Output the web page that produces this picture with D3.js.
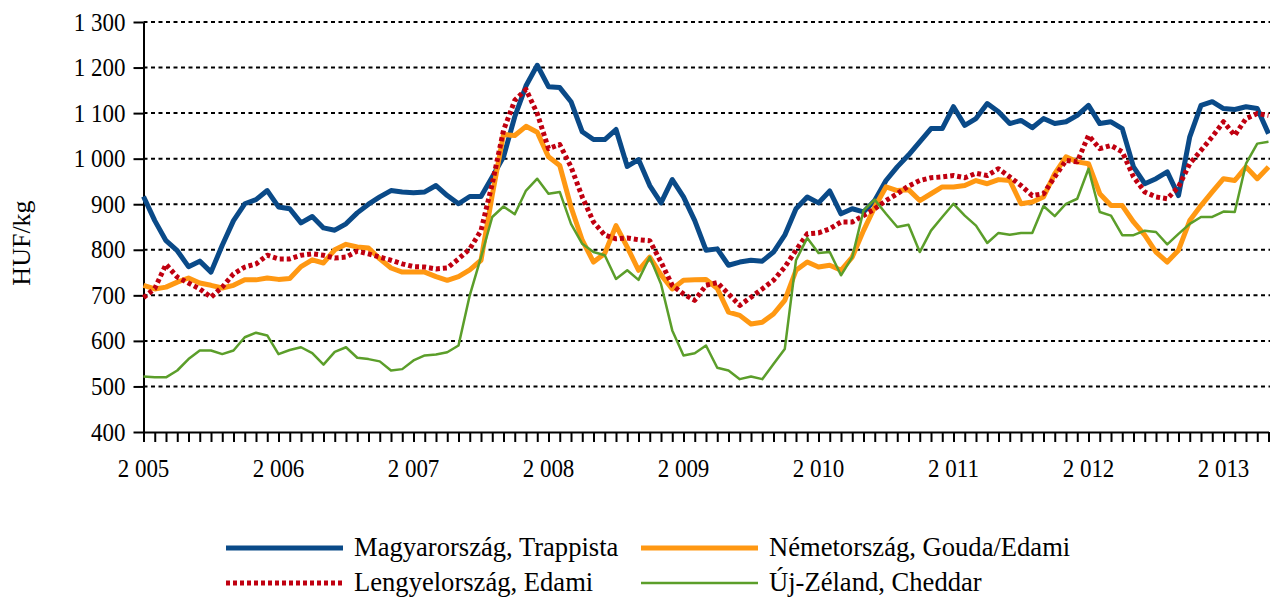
<!DOCTYPE html>
<html lang="hu">
<head>
<meta charset="UTF-8">
<title>Sajtárak</title>
<script src="https://d3js.org/d3.v7.min.js"></script>
<style>
  body { margin: 0; background: #fff; }
  svg text { font-family: "Liberation Serif", "Times New Roman", serif; fill: #000; }
</style>
</head>
<body>
<svg id="chart" width="1270" height="599"></svg>
<script>
// havi árak, HUF/kg, 2005 január - 2013 május
const years = [2005, 2006, 2007, 2008, 2009, 2010, 2011, 2012, 2013];
const yTicks = [400, 500, 600, 700, 800, 900, 1000, 1100, 1200, 1300];

const trappista = [917, 864, 820, 798, 763, 775, 751, 810, 864, 901, 910, 930, 894, 890, 859, 873, 848, 843, 857, 881,
  900, 916, 930, 927, 925, 927, 941, 919, 901, 917, 917, 960, 1004, 1092, 1160, 1205, 1158, 1156, 1125, 1059,
  1042, 1042, 1064, 983, 998, 941, 903, 954, 916, 864, 799, 802, 766, 773, 777, 775, 795, 832, 890, 916,
  903, 929, 879, 890, 883, 908, 952, 982, 1008, 1037, 1066, 1066, 1114, 1073, 1088, 1121, 1103, 1077, 1084, 1068,
  1088, 1077, 1081, 1095, 1117, 1077, 1081, 1066, 982, 945, 956, 971, 919, 1048, 1117, 1125, 1110, 1108, 1114, 1110, 1055];

const gouda = [722, 714, 718, 729, 738, 727, 722, 716, 722, 734, 734, 738, 735, 737, 763, 778, 771, 800, 812, 806,
  804, 780, 760, 751, 751, 751, 741, 733, 741, 756, 777, 920, 1053, 1051, 1071, 1058, 1004, 985, 894, 821,
  773, 792, 853, 806, 755, 784, 745, 714, 733, 734, 735, 715, 663, 656, 637, 641, 659, 689, 755, 773,
  762, 766, 755, 784, 842, 894, 938, 930, 932, 908, 923, 938, 938, 941, 952, 945, 954, 952, 901, 905,
  916, 967, 1004, 993, 989, 923, 897, 897, 861, 832, 795, 773, 799, 864, 897, 927, 956, 952, 982, 956, 982];

const edami = [695, 715, 768, 740, 727, 714, 696, 718, 747, 762, 769, 788, 780, 780, 788, 791, 788, 782, 784, 797,
  791, 784, 777, 769, 763, 762, 758, 760, 780, 802, 842, 945, 1062, 1128, 1152, 1099, 1022, 1031, 982, 916,
  861, 832, 824, 826, 822, 820, 773, 722, 703, 689, 722, 728, 703, 678, 696, 714, 733, 762, 799, 835,
  837, 846, 861, 861, 875, 890, 908, 923, 940, 952, 958, 960, 963, 958, 968, 963, 978, 960, 941, 919,
  923, 960, 996, 993, 1051, 1022, 1029, 1015, 960, 927, 916, 912, 938, 989, 1018, 1048, 1081, 1051, 1088, 1099, 1095];

const cheddar = [522, 520, 520, 535, 560, 579, 579, 571, 579, 608, 618, 612, 571, 580, 586, 573, 548, 576, 586, 563,
  560, 555, 535, 538, 557, 568, 570, 575, 590, 700, 784, 872, 895, 878, 930, 956, 923, 927, 857, 813,
  795, 788, 736, 755, 734, 784, 725, 623, 568, 573, 590, 541, 535, 516, 522, 516, 549, 582, 777, 826,
  793, 795, 744, 784, 886, 910, 879, 850, 855, 795, 842, 872, 901, 875, 853, 815, 837, 833, 837, 837,
  896, 874, 901, 912, 978, 883, 875, 832, 832, 842, 839, 812, 835, 857, 872, 872, 884, 883, 989, 1033, 1037];

const series = [
  { name: "Magyarország, Trappista", values: trappista, color: "#0a4a88", width: 5, dash: null },
  { name: "Németország, Gouda/Edami", values: gouda, color: "#ff9812", width: 5, dash: null },
  { name: "Lengyelország, Edami", values: edami, color: "#c00010", width: 5, dash: "4,3" },
  { name: "Új-Zéland, Cheddar", values: cheddar, color: "#5b9e2a", width: 2.5, dash: null }
];

const svg = d3.select("#chart");
const sx = 0.92; // a szöveg kissé keskenyített

const x = d3.scaleLinear().domain([0, trappista.length - 1]).range([143.5, 1268.5]);
const y = d3.scaleLinear().domain([400, 1300]).range([432, 22]);
const fmt = d3.formatLocale({ decimal: ",", thousands: " ", grouping: [3], currency: ["", ""] }).format(",");

// rácsvonalak
svg.append("g")
  .selectAll("line")
  .data(yTicks.filter(d => d > 400))
  .enter().append("line")
  .attr("x1", 143.5).attr("x2", 1270)
  .attr("y1", d => y(d)).attr("y2", d => y(d))
  .attr("stroke", "#000")
  .attr("stroke-width", 2)
  .attr("stroke-dasharray", "4,3.5");

// y tengely
const yAxis = svg.append("g")
  .attr("transform", "translate(143.5,0)")
  .call(d3.axisLeft(y).tickValues(yTicks).tickSize(10).tickSizeOuter(0).tickPadding(8).tickFormat(fmt));
yAxis.select(".domain").attr("stroke", "#000").attr("stroke-width", 2);
yAxis.selectAll(".tick line").attr("stroke", "#000").attr("stroke-width", 2);
yAxis.selectAll(".tick text")
  .attr("font-size", 25)
  .attr("font-family", null)
  .attr("x", -18 / sx)
  .attr("transform", `scale(${sx},1)`);

// x tengely, havi osztásokkal
const xAxis = svg.append("g")
  .attr("transform", "translate(0,432)")
  .call(d3.axisBottom(x).tickValues(d3.range(trappista.length)).tickSize(10).tickSizeOuter(0).tickFormat(""));
xAxis.select(".domain").attr("stroke", "#000").attr("stroke-width", 2);
xAxis.selectAll(".tick line").attr("stroke", "#000").attr("stroke-width", 2);

svg.append("g")
  .selectAll("text")
  .data(years)
  .enter().append("text")
  .attr("transform", (d, i) => `translate(${x(i * 12)},477) scale(${sx},1)`)
  .attr("text-anchor", "middle")
  .attr("font-size", 25)
  .text(d => fmt(d));

svg.append("text")
  .attr("transform", "translate(30,243) rotate(-90)")
  .attr("text-anchor", "middle")
  .attr("font-size", 26)
  .text("HUF/kg");

// vonalak
const line = d3.line()
  .x((d, i) => x(i))
  .y(d => y(d));

svg.append("g")
  .selectAll("path")
  .data(series)
  .enter().append("path")
  .attr("d", d => line(d.values))
  .attr("fill", "none")
  .attr("stroke", d => d.color)
  .attr("stroke-width", d => d.width)
  .attr("stroke-dasharray", d => d.dash)
  .attr("stroke-linejoin", "round");

// jelmagyarázat
const legendPos = [[226, 548], [641, 548], [226, 583], [641, 583]];
const legend = svg.append("g")
  .selectAll("g")
  .data(series)
  .enter().append("g")
  .attr("transform", (d, i) => `translate(${legendPos[i][0]},${legendPos[i][1]})`);

legend.append("line")
  .attr("x1", 0).attr("x2", 117)
  .attr("stroke", d => d.color)
  .attr("stroke-width", d => d.width)
  .attr("stroke-dasharray", d => d.dash);

legend.append("text")
  .attr("transform", `translate(128,0) scale(0.95,1)`)
  .attr("dy", "0.3em")
  .attr("font-size", 28)
  .text(d => d.name);
</script>
</body>
</html>
